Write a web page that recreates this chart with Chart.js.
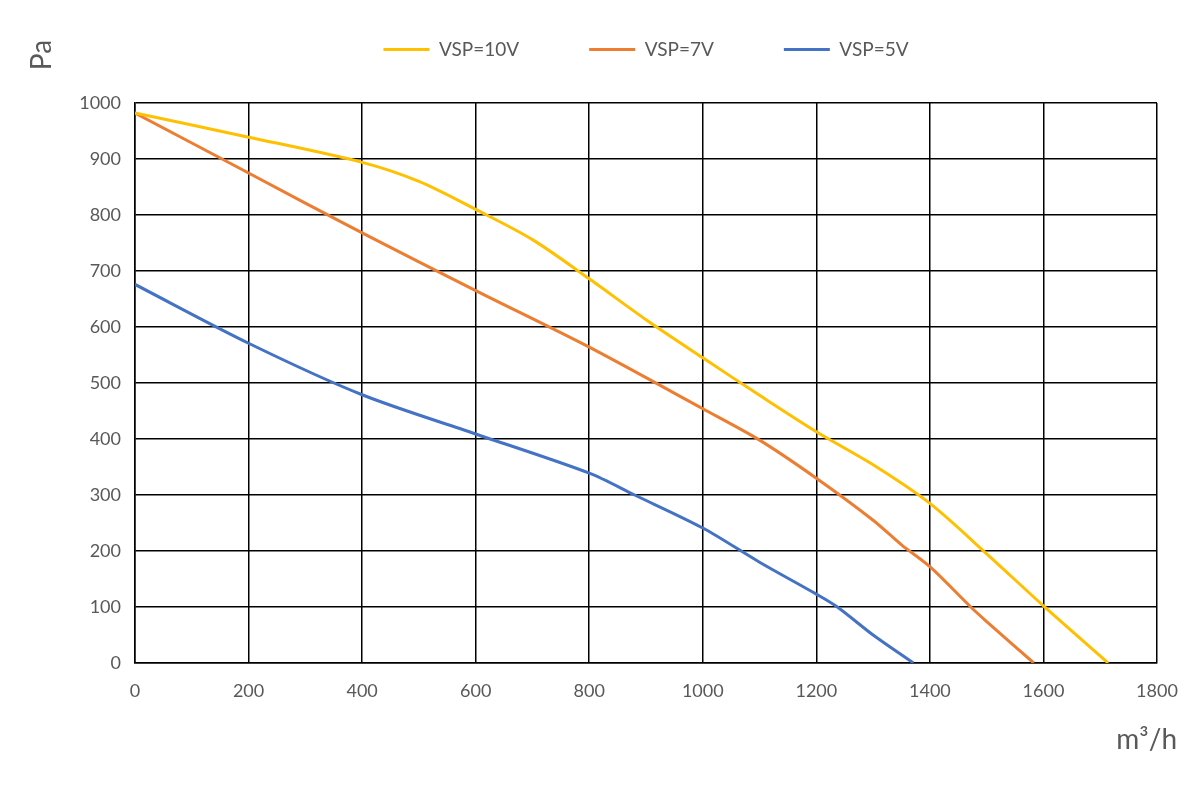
<!DOCTYPE html>
<html>
<head>
<meta charset="utf-8">
<script src="https://cdn.jsdelivr.net/npm/chart.js@4/dist/chart.umd.min.js"></script>
<style>
  body { margin: 0; background: #fff; }
  #wrap { position: relative; width: 1200px; height: 800px; }
</style>
</head>
<body>
<div id="wrap"><canvas id="chart-curves"></canvas></div>
<script>
// fan curves, airflow (m3/h) vs static pressure (Pa)
const airflow10 = [0, 200, 400, 500, 600, 700, 800, 900, 1000, 1100, 1200, 1300, 1400, 1500, 1600, 1714];
const pressure10 = [982, 939, 894, 860, 810, 756, 686, 613, 545, 478, 413, 354, 285, 195, 102, 0];

const airflow7 = [0, 200, 400, 600, 800, 1000, 1100, 1200, 1300, 1350, 1400, 1472, 1500, 1583];
const pressure7 = [982, 875, 768, 665, 564, 454, 398, 330, 255, 211, 172, 100, 74, 0];

const airflow5 = [0, 200, 400, 600, 800, 880, 1000, 1100, 1200, 1237, 1300, 1371];
const pressure5 = [676, 571, 479, 409, 339, 300, 241, 180, 123, 100, 50, 0];

const seriesNames = ['VSP=10V', 'VSP=7V', 'VSP=5V'];
const seriesColors = ['#FFC000', '#ED7D31', '#4472C4'];
const xTicks = [0, 200, 400, 600, 800, 1000, 1200, 1400, 1600, 1800];
const yTicks = [0, 100, 200, 300, 400, 500, 600, 700, 800, 900, 1000];

const toPoints = (xs, ys) => xs.map((x, i) => ({ x: x, y: ys[i] }));

const makeSet = (i, xs, ys) => ({
    label: seriesNames[i],
    data: toPoints(xs, ys),
    showLine: true,
    borderColor: seriesColors[i],
    backgroundColor: seriesColors[i],
    borderWidth: 3,
    pointRadius: 0,
    pointStyle: 'line',
    tension: 0.3
});

// axis unit labels sit outside the plot area
const unitLabels = {
    id: 'unitLabels',
    afterDraw(chart) {
        const ctx = chart.ctx;
        ctx.save();
        ctx.fillStyle = '#595959';
        ctx.font = '28px Lato';
        ctx.textAlign = 'center';
        ctx.textBaseline = 'middle';
        ctx.translate(42, 55);
        ctx.rotate(-Math.PI / 2);
        ctx.fillText('Pa', 0, 0);
        ctx.restore();
        ctx.save();
        ctx.fillStyle = '#595959';
        ctx.font = '28px Lato';
        ctx.textAlign = 'right';
        ctx.textBaseline = 'middle';
        ctx.fillText('m³/h', 1177, 740);
        ctx.restore();
    }
};

const legendHeight = {
    id: 'legendHeight',
    beforeInit(chart) {
        const fit = chart.legend.fit;
        chart.legend.fit = function () {
            fit.call(this);
            this.height = 133;
        };
    }
};

const gridOpts = { color: '#000', lineWidth: 1.5, drawTicks: false };
const tickFont = { family: 'Lato', size: 18 };

new Chart(document.getElementById('chart-curves'), {
    type: 'scatter',
    data: {
        datasets: [
            makeSet(0, airflow10, pressure10),
            makeSet(1, airflow7, pressure7),
            makeSet(2, airflow5, pressure5)
        ]
    },
    options: {
        responsive: true,
        maintainAspectRatio: false,
        animation: false,
        layout: { padding: { top: -30, left: 0, right: 43, bottom: 0 } },
        plugins: {
            tooltip: { enabled: false },
            legend: {
                position: 'top',
                fullSize: false,
                labels: {
                    usePointStyle: true,
                    pointStyleWidth: 46,
                    boxHeight: 18,
                    padding: 70,
                    color: '#595959',
                    font: { family: 'Lato', size: 19 }
                }
            }
        },
        scales: {
            x: {
                type: 'linear',
                min: 0,
                max: 1800,
                afterBuildTicks: (axis) => { axis.ticks = xTicks.map(v => ({ value: v })); },
                afterFit: (axis) => { axis.height = 137; },
                grid: gridOpts,
                border: { color: '#000', width: 1.5 },
                ticks: { color: '#595959', padding: 17, font: tickFont, callback: (v) => String(v) }
            },
            y: {
                min: 0,
                max: 1000,
                afterBuildTicks: (axis) => { axis.ticks = yTicks.map(v => ({ value: v })); },
                afterFit: (axis) => { axis.width = 135; },
                grid: gridOpts,
                border: { color: '#000', width: 1.5 },
                ticks: { color: '#595959', padding: 14, font: tickFont, callback: (v) => String(v) }
            }
        }
    },
    plugins: [legendHeight, unitLabels]
});
</script>
</body>
</html>
